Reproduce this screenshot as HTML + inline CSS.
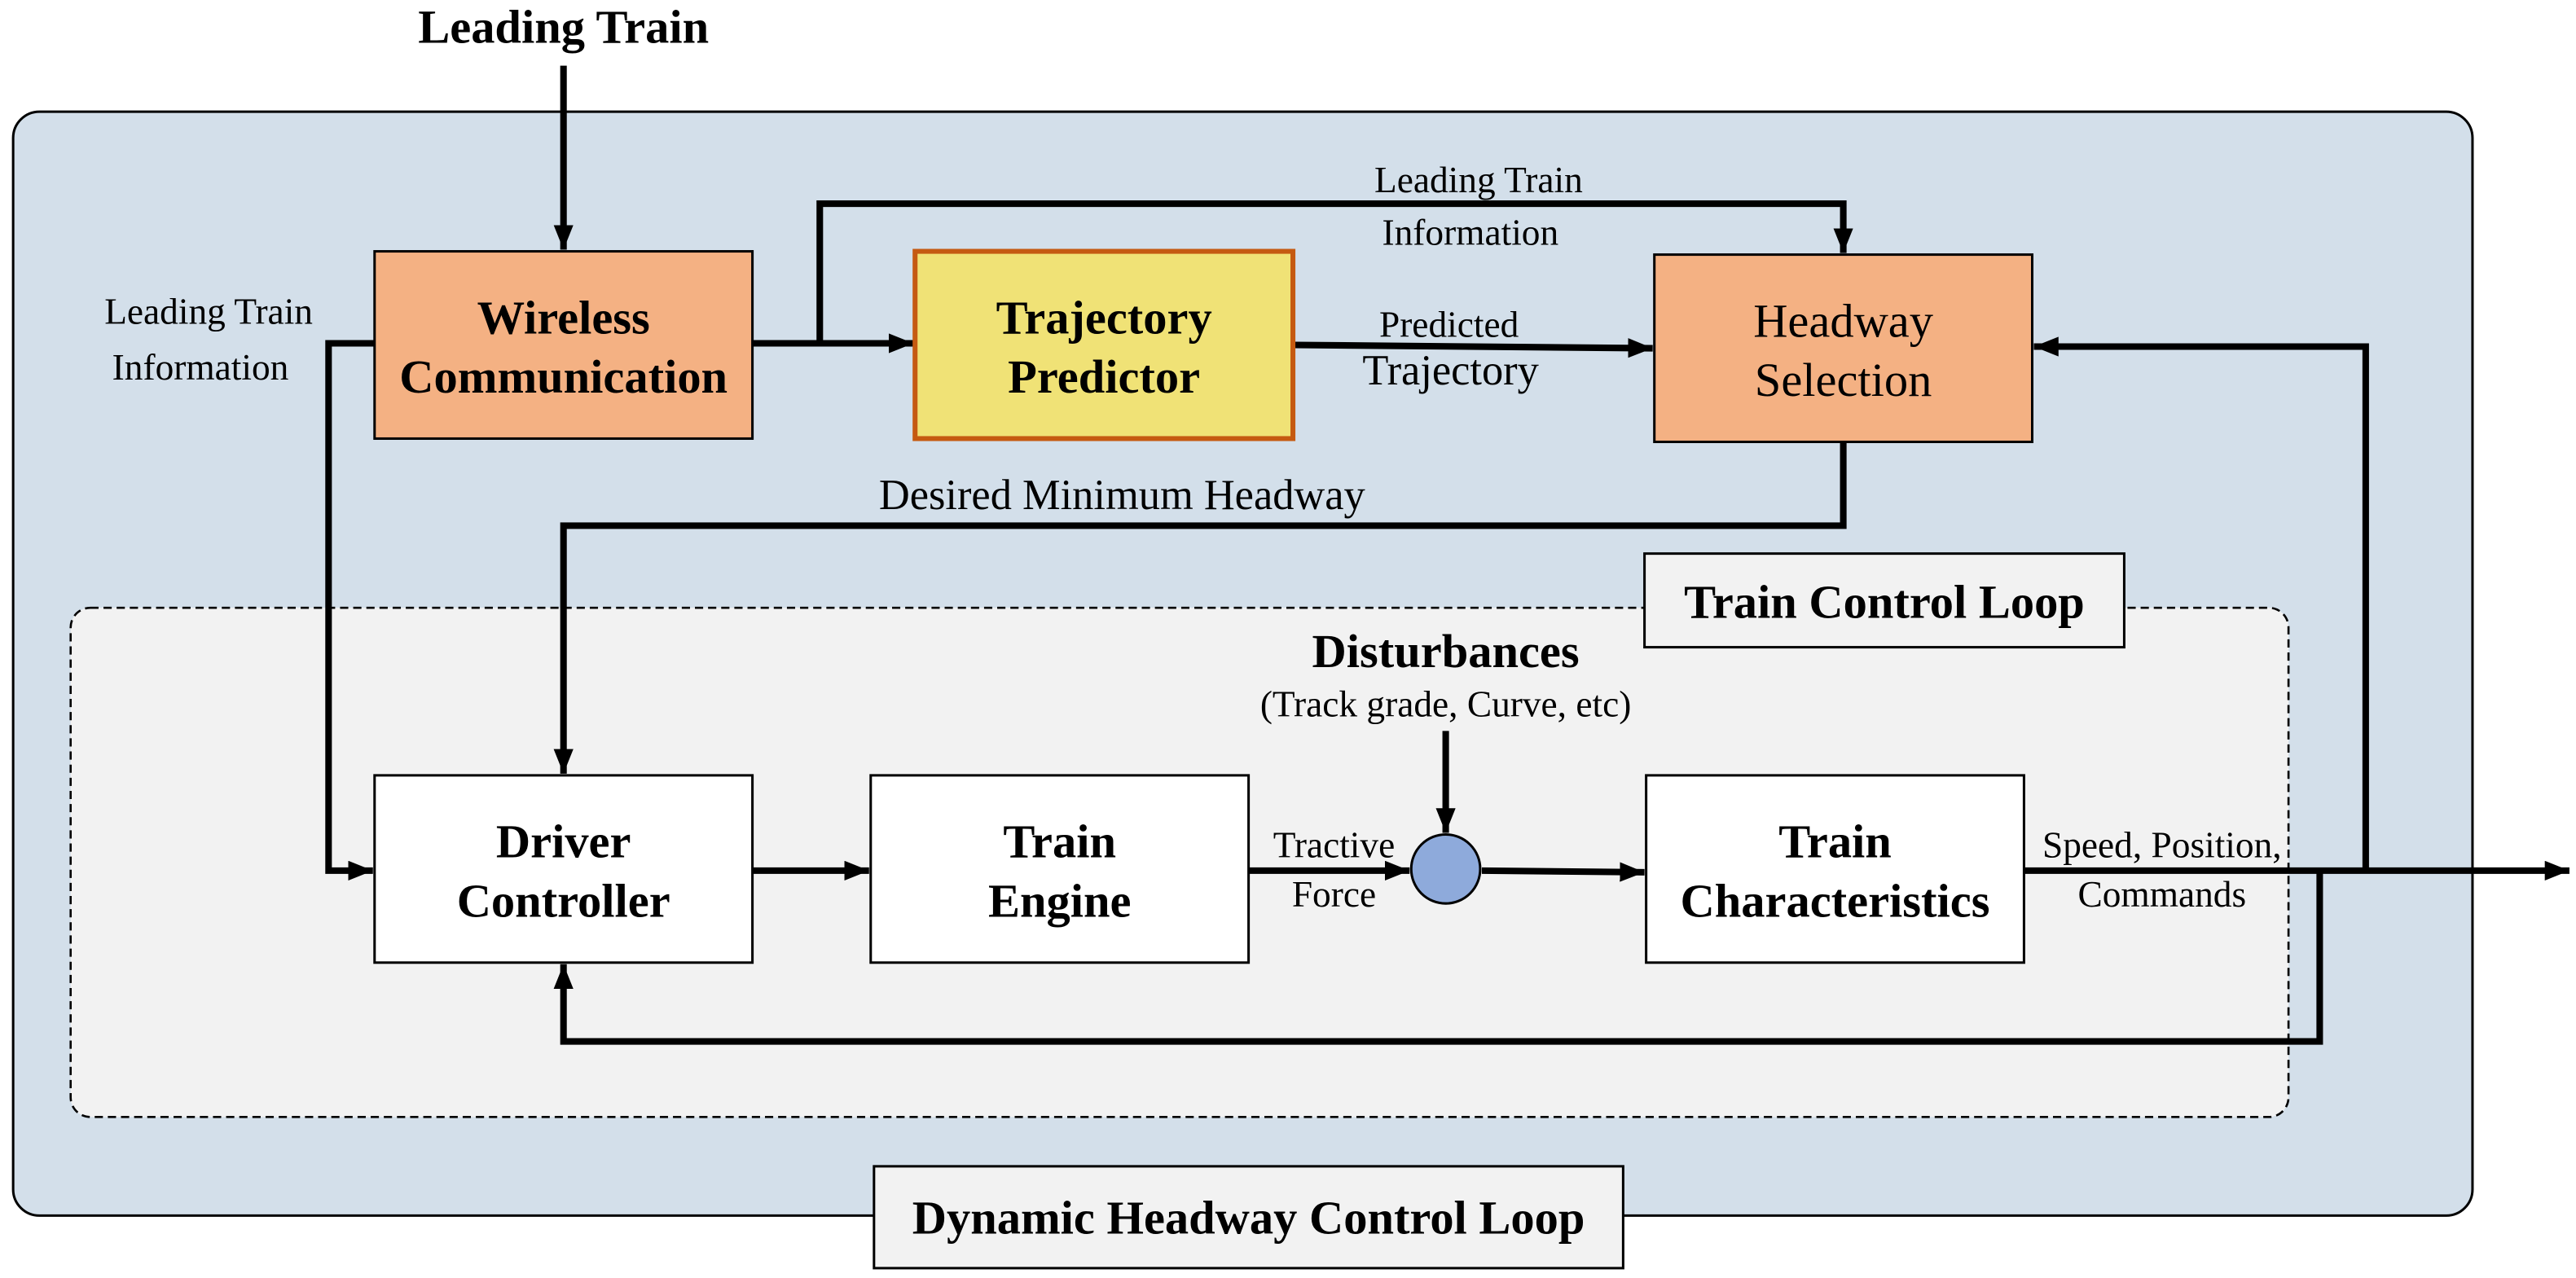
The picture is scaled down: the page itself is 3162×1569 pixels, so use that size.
<!DOCTYPE html>
<html><head><meta charset="utf-8"><style>
html,body{margin:0;padding:0;background:#fff;}
svg{display:block;}
text{font-family:"Liberation Serif",serif;fill:#000;}
.b{font-weight:bold;font-size:29px;}
.n{font-size:29px;}
.s{font-size:22.5px;}
</style></head><body>
<svg width="3162" height="1569" viewBox="0 0 1568 778" preserveAspectRatio="none" xmlns="http://www.w3.org/2000/svg">
<defs>
<marker id="a" markerWidth="15" markerHeight="12" refX="15" refY="6" orient="auto" markerUnits="userSpaceOnUse">
<path d="M0,0 L15,6 L0,12 z" fill="#000"/></marker>
</defs>
<text x="343" y="26" text-anchor="middle" class="b">Leading Train</text>
<rect x="8" y="68" width="1497" height="672" rx="16" fill="#d3dfea" stroke="#000" stroke-width="1.5"/>
<rect x="43" y="370" width="1350" height="310" rx="12" fill="#f2f2f2" stroke="#000" stroke-width="1.3" stroke-dasharray="5,3"/>
<g stroke="#000" stroke-width="4" fill="none">
<line x1="343" y1="40" x2="343" y2="152" marker-end="url(#a)"/>
<line x1="458" y1="209" x2="556" y2="209" marker-end="url(#a)"/>
<polyline points="499,209 499,124 1122,124 1122,154" marker-end="url(#a)"/>
<line x1="788" y1="210" x2="1006" y2="212" marker-end="url(#a)"/>
<polyline points="1122,269 1122,320 343,320 343,471" marker-end="url(#a)"/>
<polyline points="228,209 200,209 200,530 227,530" marker-end="url(#a)"/>
<line x1="880" y1="445" x2="880" y2="507" marker-end="url(#a)"/>
<line x1="458" y1="530" x2="529" y2="530" marker-end="url(#a)"/>
<line x1="760" y1="530" x2="858" y2="530" marker-end="url(#a)"/>
<line x1="902" y1="530" x2="1001" y2="531" marker-end="url(#a)"/>
<line x1="1232" y1="530" x2="1564" y2="530" marker-end="url(#a)"/>
<polyline points="1440,530 1440,211 1238,211" marker-end="url(#a)"/>
<polyline points="1412,530 1412,634 343,634 343,587" marker-end="url(#a)"/>
</g>
<rect x="228" y="153" width="230" height="114" fill="#f4b183" stroke="#000" stroke-width="1.5"/>
<text x="343" y="203" text-anchor="middle" class="b">Wireless</text>
<text x="343" y="239" text-anchor="middle" class="b">Communication</text>
<rect x="557" y="153" width="230" height="114" fill="#f0e276" stroke="#c55a11" stroke-width="3"/>
<text x="672" y="203" text-anchor="middle" class="b">Trajectory</text>
<text x="672" y="239" text-anchor="middle" class="b">Predictor</text>
<rect x="1007" y="155" width="230" height="114" fill="#f4b183" stroke="#000" stroke-width="1.5"/>
<text x="1122" y="205" text-anchor="middle" class="n">Headway</text>
<text x="1122" y="241" text-anchor="middle" class="n">Selection</text>
<text x="900" y="117" text-anchor="middle" class="s">Leading Train</text>
<text x="895" y="149" text-anchor="middle" class="s">Information</text>
<text x="882" y="205" text-anchor="middle" class="s">Predicted</text>
<text x="883" y="234" text-anchor="middle" style="font-size:26px">Trajectory</text>
<text x="683" y="310" text-anchor="middle" style="font-size:26px">Desired Minimum Headway</text>
<text x="127" y="197" text-anchor="middle" class="s">Leading Train</text>
<text x="122" y="231" text-anchor="middle" class="s">Information</text>
<rect x="1001" y="337" width="292" height="57" fill="#f2f2f2" stroke="#000" stroke-width="1.5"/>
<text x="1147" y="376" text-anchor="middle" class="b">Train Control Loop</text>
<text x="880" y="406" text-anchor="middle" class="b">Disturbances</text>
<text x="880" y="436" text-anchor="middle" class="s">(Track grade, Curve, etc)</text>
<circle cx="880" cy="529" r="21" fill="#8eaadb" stroke="#000" stroke-width="1.5"/>
<rect x="228" y="472" width="230" height="114" fill="#fff" stroke="#000" stroke-width="1.5"/>
<text x="343" y="522" text-anchor="middle" class="b">Driver</text>
<text x="343" y="558" text-anchor="middle" class="b">Controller</text>
<rect x="530" y="472" width="230" height="114" fill="#fff" stroke="#000" stroke-width="1.5"/>
<text x="645" y="522" text-anchor="middle" class="b">Train</text>
<text x="645" y="558" text-anchor="middle" class="b">Engine</text>
<rect x="1002" y="472" width="230" height="114" fill="#fff" stroke="#000" stroke-width="1.5"/>
<text x="1117" y="522" text-anchor="middle" class="b">Train</text>
<text x="1117" y="558" text-anchor="middle" class="b">Characteristics</text>
<text x="812" y="522" text-anchor="middle" class="s">Tractive</text>
<text x="812" y="552" text-anchor="middle" class="s">Force</text>
<text x="1316" y="522" text-anchor="middle" class="s">Speed, Position,</text>
<text x="1316" y="552" text-anchor="middle" class="s">Commands</text>
<rect x="532" y="710" width="456" height="62" fill="#f2f2f2" stroke="#000" stroke-width="1.5"/>
<text x="760" y="751" text-anchor="middle" class="b">Dynamic Headway Control Loop</text>
</svg>
</body></html>
